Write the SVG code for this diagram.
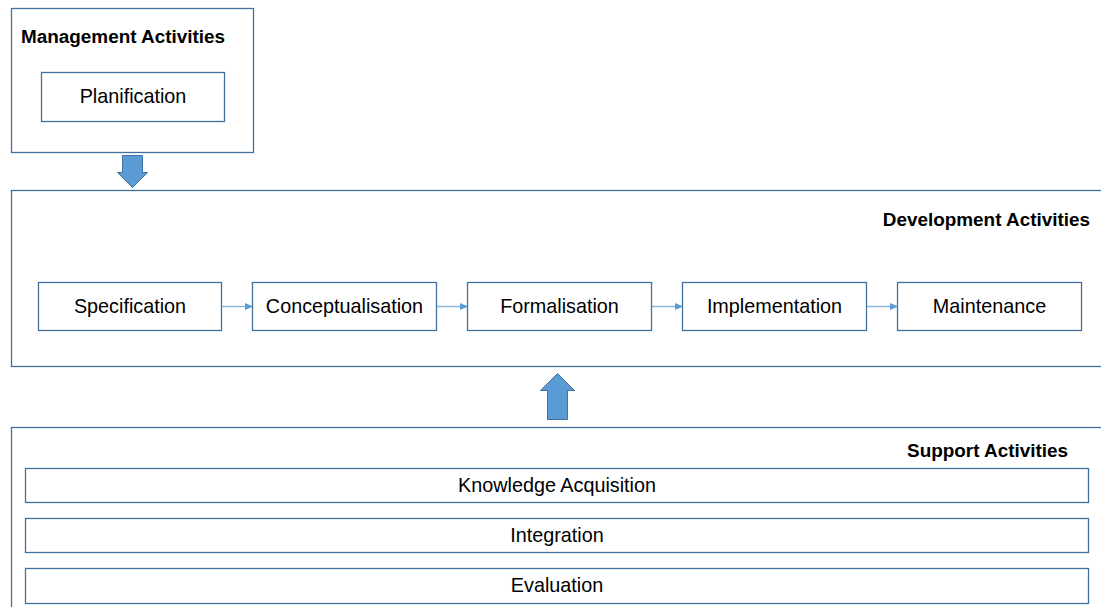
<svg xmlns="http://www.w3.org/2000/svg" width="1101" height="607" viewBox="0 0 1101 607">
<defs>
<style>
.box{fill:#fff;stroke:#41719C;stroke-width:1.3}
.t{font-family:"Liberation Sans",Arial,sans-serif;font-size:19.8px;fill:#000;text-anchor:middle}
.h{font-family:"Liberation Sans",Arial,sans-serif;font-size:18.9px;font-weight:bold;fill:#000}
.con{stroke:#8FB4D9;stroke-width:1.5;fill:none}
.big{fill:#5B9BD5;stroke:#41719C;stroke-width:1}
</style>
<marker id="ah" markerWidth="8" markerHeight="8" refX="7" refY="4" orient="auto" markerUnits="userSpaceOnUse">
<path d="M0,0.5 L8,4 L0,7.5 Z" fill="#5B9BD5"/>
</marker>
</defs>
<rect width="1101" height="607" fill="#fff"/>
<g id="management">
<rect class="box" x="11.5" y="8.5" width="242" height="144"/>
<text class="h" x="21" y="43">Management Activities</text>
</g>
<g id="planification">
<rect class="box" x="41.5" y="72.5" width="183" height="49"/>
<text class="t" x="133" y="103">Planification</text>
</g>
<g id="development">
<rect class="box" x="11.5" y="190.5" width="1095" height="176"/>
<text class="h" x="1090" y="226" text-anchor="end">Development Activities</text>
</g>
<g id="specification">
<rect class="box" x="38.5" y="282.5" width="183" height="48"/>
<text class="t" x="130" y="313">Specification</text>
</g>
<g id="conceptualisation">
<rect class="box" x="252.5" y="282.5" width="184" height="48"/>
<text class="t" x="344.5" y="313">Conceptualisation</text>
</g>
<g id="formalisation">
<rect class="box" x="467.5" y="282.5" width="184" height="48"/>
<text class="t" x="559.5" y="313">Formalisation</text>
</g>
<g id="implementation">
<rect class="box" x="682.5" y="282.5" width="184" height="48"/>
<text class="t" x="774.5" y="313">Implementation</text>
</g>
<g id="maintenance">
<rect class="box" x="897.5" y="282.5" width="184" height="48"/>
<text class="t" x="989.5" y="313">Maintenance</text>
</g>
<g id="support">
<rect class="box" x="11.5" y="427.5" width="1095" height="190"/>
<text class="h" x="1068" y="457" text-anchor="end">Support Activities</text>
</g>
<g id="knowledge">
<rect class="box" x="25.5" y="468.5" width="1063" height="34"/>
<text class="t" x="557" y="492">Knowledge Acquisition</text>
</g>
<g id="integration">
<rect class="box" x="25.5" y="518.5" width="1063" height="34"/>
<text class="t" x="557" y="542">Integration</text>
</g>
<g id="evaluation">
<rect class="box" x="25.5" y="568.5" width="1063" height="35"/>
<text class="t" x="557" y="592">Evaluation</text>
</g>
<g id="connectors">
<line class="con" x1="222" y1="306.5" x2="252" y2="306.5" marker-end="url(#ah)"/>
<line class="con" x1="437" y1="306.5" x2="467" y2="306.5" marker-end="url(#ah)"/>
<line class="con" x1="652" y1="306.5" x2="682" y2="306.5" marker-end="url(#ah)"/>
<line class="con" x1="867" y1="306.5" x2="897" y2="306.5" marker-end="url(#ah)"/>
<path class="big" d="M122.5,155.5 H142.5 V172.5 H147.5 L132.5,187.5 L117.5,172.5 H122.5 Z"/>
<path class="big" d="M547.5,419.5 H567.5 V390.5 H574.5 L557.5,373.5 L540.5,390.5 H547.5 Z"/>
</g>
</svg>
